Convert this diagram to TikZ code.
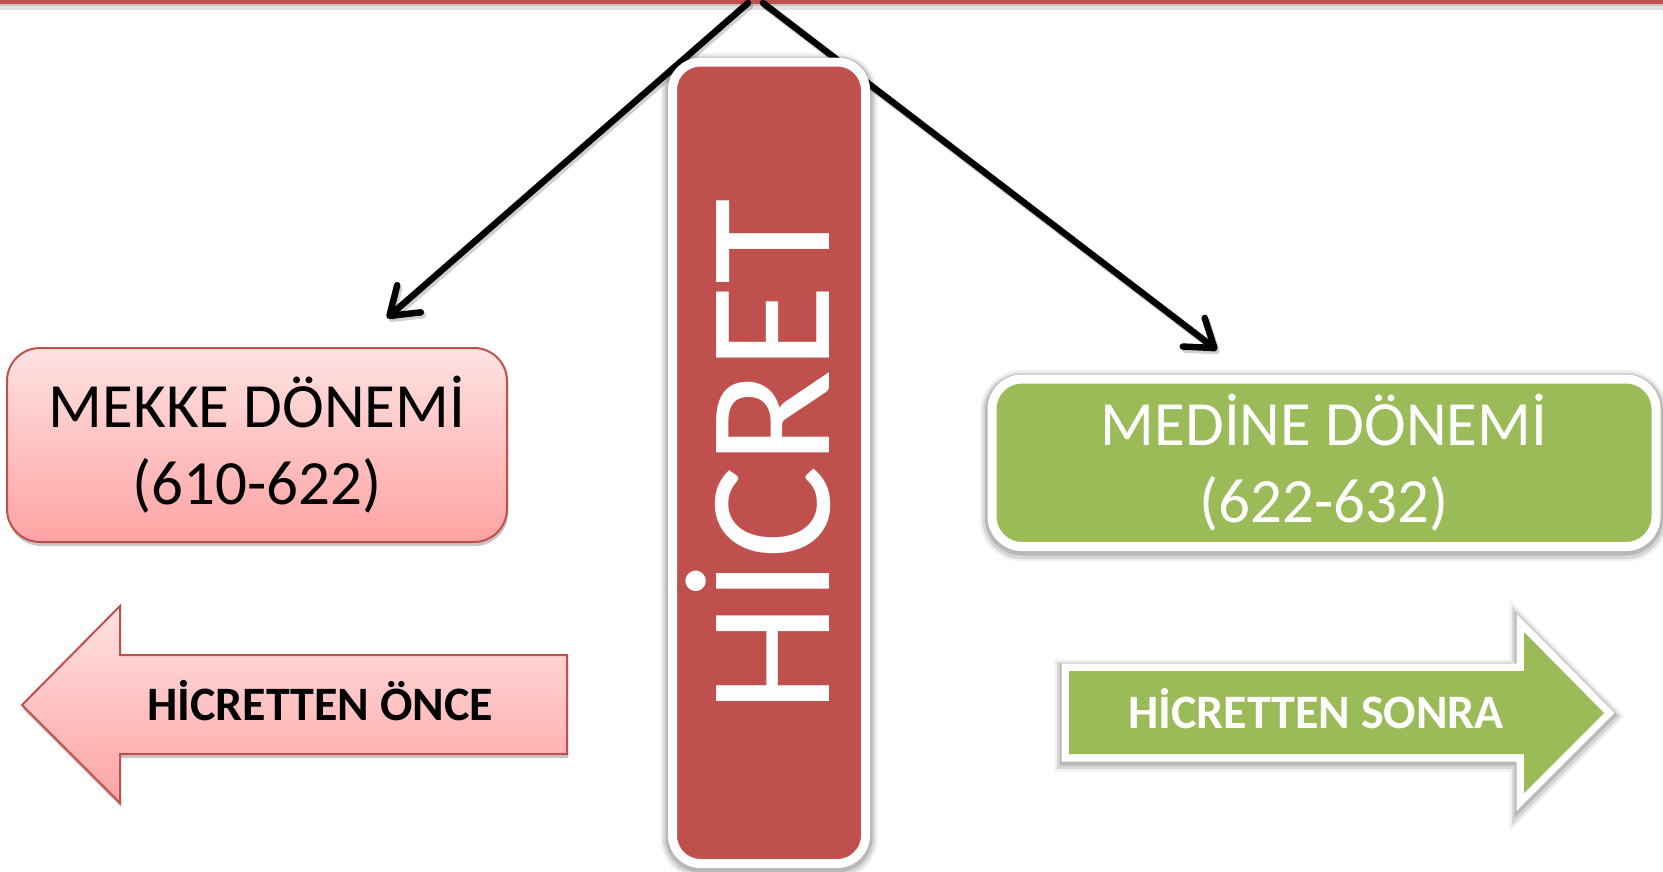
\documentclass[tikz,border=0pt]{standalone}
\usepackage{fontspec}
\setmainfont{Carlito}
\usetikzlibrary{arrows.meta,shadows,calc}
\definecolor{hred}{RGB}{192,80,77}
\definecolor{hgreen}{RGB}{155,187,89}
\definecolor{pinktop}{RGB}{255,226,226}
\definecolor{pinkbot}{RGB}{255,163,163}
\begin{document}
\begin{tikzpicture}[x=1pt,y=-1pt,
  softshadow/.style={drop shadow={shadow xshift=1pt,shadow yshift=-4pt,fill=black,opacity=0.22}},
  glow/.style={
    preaction={draw=black,opacity=0.06,line width=24pt,transform canvas={yshift=-3pt}},
    preaction={draw=black,opacity=0.10,line width=19pt,transform canvas={yshift=-3pt}},
    preaction={draw=black,opacity=0.14,line width=14pt,transform canvas={yshift=-2pt}}},
  conn/.style={line width=6.5pt,line cap=round,-{Straight Barb[length=26pt,width=36pt,round]}},
  connshadow/.style={conn,draw=black,opacity=0.18,transform canvas={xshift=2pt,yshift=-3pt}},
  pinkbox/.style={draw=hred,line width=2pt,top color=pinktop,bottom color=pinkbot},
  whitebox/.style={draw=white,line width=9pt,glow},
  bigtext/.style={align=center,font=\fontsize{63}{77}\selectfont,inner sep=0pt},
  arrowtext/.style={anchor=base,inner sep=0pt,font=\bfseries\fontsize{48}{48}\selectfont}
]
\useasboundingbox (0,0) rectangle (1663,871);
\fill[white] (0,0) rectangle (1663,871);
% top line
\fill[black,opacity=0.12] (0,3) rectangle (1663,10);
\fill[black,opacity=0.12] (0,3) rectangle (1663,6);
\fill[hred] (0,0) rectangle (1663,3.5);
% connectors
\coordinate (top1) at (748,3);
\coordinate (top2) at (763,3);
\coordinate (tipL) at (387,318);
\coordinate (tipR) at (1217,350);
\draw[connshadow] (top1) -- (tipL);
\draw[connshadow] (top2) -- (tipR);
\draw[conn] (top1) -- (tipL);
\draw[conn] (top2) -- (tipR);
% HICRET
\node[whitebox,fill=hred,rounded corners=28pt,minimum width=193pt,minimum height=801.5pt,inner sep=0pt] (hicret) at (769,462.75) {};
\node[rotate=90,anchor=base,text=white,inner sep=0pt,font=\fontsize{176}{176}\selectfont] (hicrettext) at (829,456) {HİCRET};
% MEKKE
\node[pinkbox,rounded corners=33pt,minimum width=500pt,minimum height=194pt,softshadow,bigtext] (mekke) at (257,445) {MEKKE DÖNEMİ\\(610-622)};
% MEDINE
\node[whitebox,fill=hgreen,rounded corners=30pt,minimum width=664pt,minimum height=167.5pt,bigtext,text=white] (medine) at (1324,462.75) {MEDİNE DÖNEMİ\\(622-632)};
% left arrow
\path[pinkbox,softshadow] (22,705) -- (120,606) -- (120,655) -- (567,655) -- (567,754) -- (120,754) -- (120,803) -- cycle;
\node[arrowtext] (once) at (320,720) {HİCRETTEN ÖNCE};
% right arrow
\path[draw=white,fill=white,line width=15pt,line join=miter,
  preaction={draw=black,opacity=0.06,line width=29pt,line join=miter,transform canvas={yshift=-3pt}},
  preaction={draw=black,opacity=0.10,line width=24pt,line join=miter,transform canvas={yshift=-3pt}},
  preaction={draw=black,opacity=0.14,line width=19pt,line join=miter,transform canvas={yshift=-2pt}}]
  (1604,713) -- (1524,632) -- (1524,671) -- (1069,671) -- (1069,754) -- (1524,754) -- (1524,793) -- cycle;
\fill[hgreen] (1604,713) -- (1524,632) -- (1524,671) -- (1069,671) -- (1069,754) -- (1524,754) -- (1524,793) -- cycle;
\node[arrowtext,text=white] (sonra) at (1316,728) {HİCRETTEN SONRA};
\end{tikzpicture}
\end{document}
